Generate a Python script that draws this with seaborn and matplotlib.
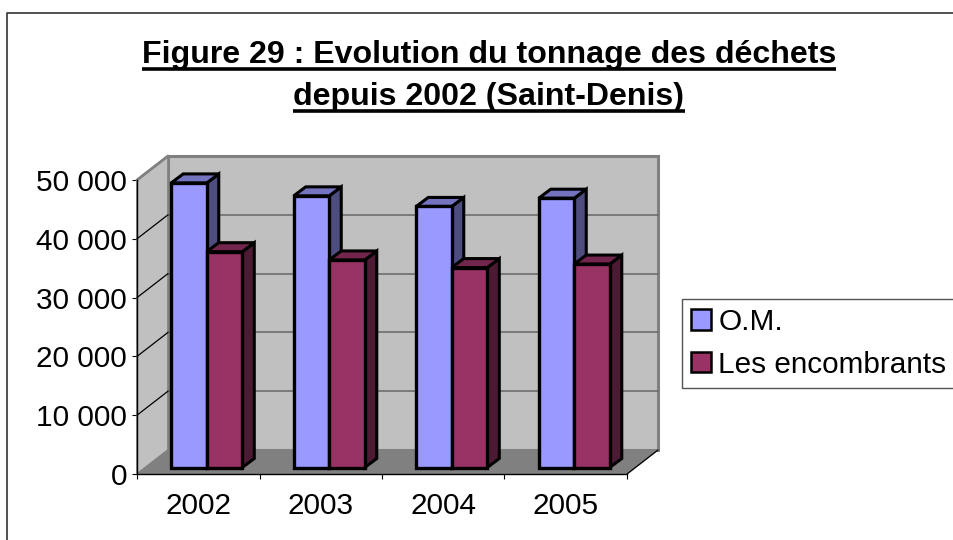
import pandas as pd
import matplotlib
matplotlib.use("Agg")
import matplotlib.pyplot as plt
import seaborn as sns
from matplotlib.patches import Polygon
from matplotlib.lines import Line2D
from matplotlib.transforms import Affine2D, IdentityTransform

# Data
years = ["2002", "2003", "2004", "2005"]
om = [48400, 46200, 44400, 45800]
encombrants = [36700, 35300, 34000, 34600]
series_names = ["O.M.", "Les encombrants"]
y_ticks = [0, 10000, 20000, 30000, 40000, 50000]
y_labels = ["0", "10 000", "20 000", "30 000", "40 000", "50 000"]
title_lines = ["Figure 29 : Evolution du tonnage des déchets", "depuis 2002 (Saint-Denis)"]

W, H = 954, 540

df = pd.DataFrame({
    "year": years * 2,
    "tonnes": om + encombrants,
    "series": [series_names[0]] * 4 + [series_names[1]] * 4,
})

sns.set_theme(style="white")
plt.rcParams["font.family"] = ["Liberation Sans", "DejaVu Sans"]

fig = plt.figure(figsize=(W / 100, H / 100), dpi=100)
ax = fig.add_axes([137 / W, 1 - 474 / H, 490 / W, 294 / H])
ax.patch.set_alpha(0)


def shade(color, f):
    return tuple(c * f for c in matplotlib.colors.to_rgb(color))


colors = {series_names[0]: "#9999FF", series_names[1]: "#993366"}
sns.barplot(data=df, x="year", y="tonnes", hue="series", palette=colors, hue_order=series_names,
            width=0.58, gap=0, saturation=1, edgecolor="black", linewidth=2.4, ax=ax)

ax.set_xlim(-0.5, 3.5)
ax.set_ylim(0, 50000)
ax.set_xlabel("")
ax.set_ylabel("")

# 3D look: offsets in pixels
wall_dx, wall_dy = 31, 24
base_dx, base_dy = 8.5, 6.5
bar_dx, bar_dy = 12, 9


def disp(x, y, dx=0, dy=0):
    px, py = ax.transData.transform((x, y))
    return (px + dx, py + dy)


def face(points, **kw):
    ax.add_patch(Polygon(points, closed=True, transform=IdentityTransform(), clip_on=False, **kw))


x0, x1 = ax.get_xlim()
y0, y1 = ax.get_ylim()
wall_grey = "#C0C0C0"
edge_grey = "#808080"

# bars first collected, the wall polygons below are not rectangles
bars = [p for p in ax.patches if p.get_height() > 0]

# back wall, left wall, floor
face([disp(x0, y0, wall_dx, wall_dy), disp(x1, y0, wall_dx, wall_dy),
      disp(x1, y1, wall_dx, wall_dy), disp(x0, y1, wall_dx, wall_dy)],
     facecolor=wall_grey, edgecolor=edge_grey, linewidth=2.2, zorder=0.5)
face([disp(x0, y0), disp(x0, y1), disp(x0, y1, wall_dx, wall_dy), disp(x0, y0, wall_dx, wall_dy)],
     facecolor=wall_grey, edgecolor=edge_grey, linewidth=1.2, zorder=0.6)
face([disp(x0, y0), disp(x1, y0), disp(x1, y0, wall_dx, wall_dy), disp(x0, y0, wall_dx, wall_dy)],
     facecolor=edge_grey, edgecolor=edge_grey, linewidth=0.8, zorder=0.7)
ax.add_line(Line2D(*zip(disp(x1, y0), disp(x1, y0, wall_dx, wall_dy)), transform=IdentityTransform(),
                   color="black", linewidth=0.9, clip_on=False, zorder=0.8))

# gridlines on the back wall and their diagonals on the left wall
for t in y_ticks[1:-1]:
    ax.add_line(Line2D(*zip(disp(x0, t, wall_dx, wall_dy), disp(x1, t, wall_dx, wall_dy)),
                       transform=IdentityTransform(), color="#666666", linewidth=1.1,
                       clip_on=False, zorder=0.9))
for t in y_ticks[1:]:
    ax.add_line(Line2D(*zip(disp(x0, t), disp(x0, t, wall_dx, wall_dy)),
                       transform=IdentityTransform(),
                       color="black" if t < y1 else edge_grey,
                       linewidth=0.9 if t < y1 else 2, clip_on=False, zorder=0.9))

# bars: move them onto the floor and add top and side faces
for i, p in enumerate(bars):
    z = 3 + i * 0.1
    bx, bw, bh = p.get_x(), p.get_width(), p.get_height()
    col = p.get_facecolor()
    p.set_transform(ax.transData + Affine2D().translate(base_dx, base_dy))
    p.set_clip_on(False)
    p.set_zorder(z + 0.02)
    dark_side = shade(col, 0.5)
    dark_top = shade(col, 0.75)
    a, b = base_dx, base_dy
    face([disp(bx + bw, 0, a, b), disp(bx + bw, bh, a, b),
          disp(bx + bw, bh, a + bar_dx, b + bar_dy), disp(bx + bw, 0, a + bar_dx, b + bar_dy)],
         facecolor=dark_side, edgecolor="black", linewidth=2.2, joinstyle="miter", zorder=z)
    face([disp(bx, bh, a, b), disp(bx + bw, bh, a, b),
          disp(bx + bw, bh, a + bar_dx, b + bar_dy), disp(bx, bh, a + bar_dx, b + bar_dy)],
         facecolor=dark_top, edgecolor="black", linewidth=2.2, joinstyle="miter", zorder=z + 0.01)

# axes and ticks
sns.despine(ax=ax, top=True, right=True)
for s in ["left", "bottom"]:
    ax.spines[s].set_color("black")
    ax.spines[s].set_linewidth(1.0)
    ax.spines[s].set_zorder(2)
ax.set_yticks(y_ticks, labels=y_labels)
ax.set_xticks([-0.5, 0.5, 1.5, 2.5, 3.5], labels=[])
ax.set_xticks(range(len(years)), labels=years, minor=True)
ax.tick_params(axis="y", which="major", left=True, length=3.6, width=0.8, color="black",
               labelsize=21.4, pad=3.5, labelcolor="black")
ax.tick_params(axis="x", which="major", bottom=True, length=3.6, width=0.8, color="black")
ax.tick_params(axis="x", which="minor", bottom=False, length=0, labelsize=21.4, pad=13, labelcolor="black")

# legend
handles, labels = ax.get_legend_handles_labels()
leg = ax.legend(handles, labels, loc="upper left", bbox_to_anchor=(682 / W, 1 - 299 / H),
                bbox_transform=fig.transFigure, borderaxespad=0, fontsize=21.4, frameon=True,
                fancybox=False, framealpha=1, edgecolor="#555555", handlelength=0.67, handleheight=0.67,
                handletextpad=0.25, borderpad=0.3, labelspacing=0.5, labelcolor="black", title=None)
leg.get_frame().set_linewidth(1.0)
for h in leg.legend_handles:
    h.set_edgecolor("black")
    h.set_linewidth(1.8)

# title, underlined by hand since text has no underline option
fig.canvas.draw()
renderer = fig.canvas.get_renderer()
for line, base_y in zip(title_lines, [63, 105]):
    t = fig.text(489 / W, 1 - base_y / H, line, ha="center", va="baseline",
                 fontsize=23.1, fontweight="bold", color="black")
    e = t.get_window_extent(renderer)
    fig.add_artist(Line2D([e.x0 / W, e.x1 / W], [1 - (base_y + 5.5) / H] * 2, transform=fig.transFigure,
                          color="black", linewidth=2.6, solid_capstyle="butt"))

# chart area frame, cut off on the right and bottom
fig.add_artist(Line2D([7.5 / W, 7.5 / W, 1], [0, 1 - 13 / H, 1 - 13 / H], transform=fig.transFigure,
                      color="#333333", linewidth=1.2))

fig.savefig("out.png", dpi=100)
